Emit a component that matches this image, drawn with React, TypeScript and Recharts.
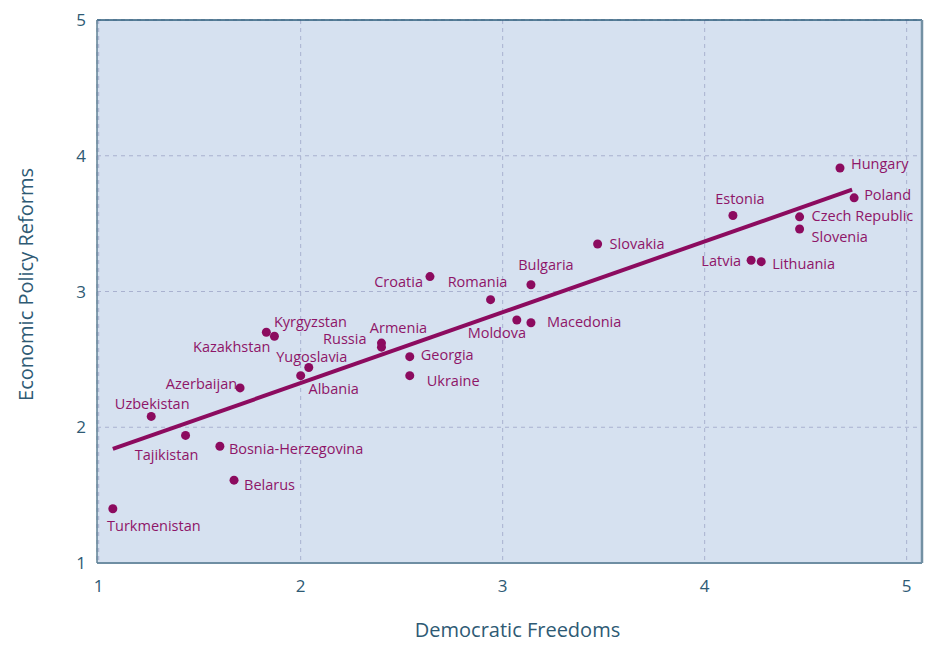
import React from 'react';
import { ScatterChart, Scatter, XAxis, YAxis, CartesianGrid, ReferenceLine } from 'recharts';

// values
const countries = [
  'Hungary', 'Poland', 'Czech Republic', 'Slovenia', 'Estonia', 'Latvia', 'Lithuania',
  'Slovakia', 'Bulgaria', 'Croatia', 'Romania', 'Moldova', 'Macedonia', 'Armenia',
  'Russia', 'Georgia', 'Ukraine', 'Kyrgyzstan', 'Kazakhstan', 'Yugoslavia', 'Albania',
  'Azerbaijan', 'Uzbekistan', 'Tajikistan', 'Bosnia-Herzegovina', 'Belarus', 'Turkmenistan',
];
const freedoms = [
  4.67, 4.74, 4.47, 4.47, 4.14, 4.23, 4.28,
  3.47, 3.14, 2.64, 2.94, 3.07, 3.14, 2.40,
  2.40, 2.54, 2.54, 1.87, 1.83, 2.04, 2.00,
  1.70, 1.26, 1.43, 1.60, 1.67, 1.07,
];
const reforms = [
  3.91, 3.69, 3.55, 3.46, 3.56, 3.23, 3.22,
  3.35, 3.05, 3.11, 2.94, 2.79, 2.77, 2.62,
  2.59, 2.52, 2.38, 2.67, 2.70, 2.44, 2.38,
  2.29, 2.08, 1.94, 1.86, 1.61, 1.40,
];
const trendFreedoms = [1.07, 4.73];
const trendReforms = [1.84, 3.75];
const xTicks = [1, 2, 3, 4, 5];
const yTicks = [1, 2, 3, 4, 5];

const X_MIN = 0.9916;
const X_MAX = 5.076;

// where each name sits next to its dot: [anchor, dx, dy]
const labelSpots: Record<string, ['start' | 'middle' | 'end', number, number]> = {
  Hungary: ['start', 11, -4],
  Poland: ['start', 10, -3],
  'Czech Republic': ['start', 12, -1],
  Slovenia: ['start', 12, 7],
  Estonia: ['middle', 7, -17],
  Latvia: ['end', -10, 0],
  Lithuania: ['start', 11, 2],
  Slovakia: ['start', 12, 0],
  Bulgaria: ['middle', 15, -20],
  Croatia: ['end', -7, 5],
  Romania: ['middle', -13, -18],
  Moldova: ['middle', -20, 12],
  Macedonia: ['start', 16, -1],
  Armenia: ['middle', 17, -16],
  Russia: ['end', -15, -9],
  Georgia: ['start', 11, -2],
  Ukraine: ['start', 17, 5],
  Kyrgyzstan: ['middle', 36, -15],
  Kazakhstan: ['end', 4, 14],
  Yugoslavia: ['middle', 3, -11],
  Albania: ['middle', 33, 13],
  Azerbaijan: ['end', -3, -4],
  Uzbekistan: ['middle', 1, -13],
  Tajikistan: ['middle', -19, 19],
  'Bosnia-Herzegovina': ['start', 9, 2],
  Belarus: ['start', 10, 4],
  Turkmenistan: ['middle', 41, 17],
};

const FONT = '"Open Sans", "Noto Sans", sans-serif';
const DOT = '#8c0b5f';
const LABEL = '#8e1568';
const AXIS_TEXT = '#2e5a74';

const points = countries.map((name, i) => ({ name, x: freedoms[i], y: reforms[i] }));

const CountryDot = (props: any) => {
  const { cx, cy, payload } = props;
  const [anchor, dx, dy] = labelSpots[payload.name] ?? ['start', 10, 0];
  return (
    <g>
      <circle cx={cx} cy={cy} r={4.5} fill={DOT} />
      <text
        x={cx + dx}
        y={cy + dy}
        textAnchor={anchor}
        dominantBaseline="central"
        fontSize={14.5}
        fontFamily={FONT}
        fill={LABEL}
      >
        {payload.name}
      </text>
    </g>
  );
};

export default function App() {
  return (
    <div style={{ position: 'absolute', left: 0, top: 0, background: '#fff' }}>
      <ScatterChart width={928} height={645} margin={{ top: 20, right: 6, left: 0, bottom: 0 }}>
        <CartesianGrid fill="#d6e1f0" stroke="#a9b1cf" strokeDasharray="4 4" />
        <XAxis
          type="number"
          dataKey="x"
          domain={[X_MIN, X_MAX]}
          ticks={xTicks}
          allowDataOverflow
          height={82}
          tickLine={false}
          tickMargin={11}
          axisLine={{ stroke: '#6f8ea3', strokeWidth: 2 }}
          tick={{ fill: AXIS_TEXT, fontSize: 17, fontFamily: FONT }}
          label={{
            value: 'Democratic Freedoms',
            position: 'insideBottom',
            offset: 8,
            dx: 8,
            fill: AXIS_TEXT,
            fontSize: 20,
            fontFamily: FONT,
          }}
        />
        <YAxis
          type="number"
          dataKey="y"
          domain={[1, 5]}
          ticks={yTicks}
          allowDataOverflow
          width={97}
          tickLine={false}
          tickMargin={5}
          axisLine={{ stroke: '#5f8094', strokeWidth: 1.5 }}
          tick={{ fill: AXIS_TEXT, fontSize: 17, fontFamily: FONT }}
          label={{
            value: 'Economic Policy Reforms',
            angle: -90,
            position: 'insideLeft',
            offset: 26,
            dy: -7,
            fill: AXIS_TEXT,
            fontSize: 20,
            fontFamily: FONT,
            style: { textAnchor: 'middle' },
          }}
        />
        <ReferenceLine y={5} stroke="#2a5a78" strokeWidth={1.5} ifOverflow="visible" />
        <ReferenceLine x={X_MAX} stroke="#7390a3" strokeWidth={2.5} ifOverflow="visible" />
        <ReferenceLine
          segment={[
            { x: trendFreedoms[0], y: trendReforms[0] },
            { x: trendFreedoms[1], y: trendReforms[1] },
          ]}
          stroke={DOT}
          strokeWidth={4}
          ifOverflow="visible"
        />
        <Scatter data={points} shape={<CountryDot />} isAnimationActive={false} />
      </ScatterChart>
    </div>
  );
}
